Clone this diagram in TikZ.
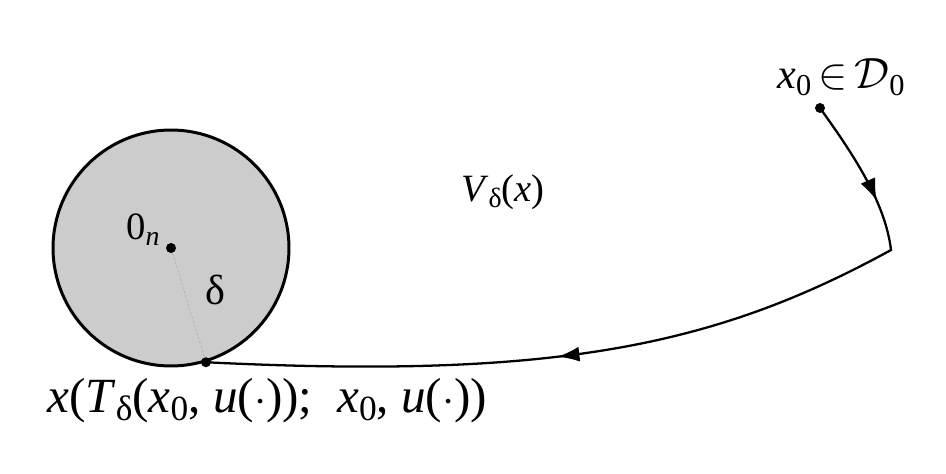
\documentclass[tikz,border=0pt]{standalone}
\usepackage{fontspec}
\setmainfont{Liberation Serif}
\usetikzlibrary{decorations.markings,arrows.meta}
\newcommand\sbs[1]{\raisebox{-0.35ex}{\scalebox{0.72}{#1}}}
\begin{document}
\begin{tikzpicture}[x=0.02cm,y=-0.02cm,
  lbl/.style={inner sep=0pt},
  dotpt/.style={circle,fill=black,inner sep=0pt,minimum size=0.2cm},
  traj/.style={line width=1.3pt, line join=miter},
]
\useasboundingbox (0,0) rectangle (946,473);
\node[circle, draw, line width=1.7pt, fill={rgb,255:red,204;green,204;blue,204},
      inner sep=0pt, minimum size=4.72cm] (ball) at (171,248) {};
\node[dotpt] (c) at (171,248) {};
\node[dotpt] (p) at (ball.-73) {};
\draw[gray!60, dash pattern=on 1.5pt off 1pt, line width=0.4pt] (c) -- (p);
\node[dotpt] (s) at (820,108) {};
\coordinate (k) at (891,250);
\draw[traj, postaction=decorate, decoration={markings,
   mark=at position 62pt with {\arrow{Latex[length=0.44cm,width=0.32cm]}},
   mark=at position 292pt with {\arrow{Latex[length=0.44cm,width=0.3cm]}}}]
  (s.center) .. controls (850,150) and (885,200) .. (k)
  .. controls (716,346) and (556,379.5) .. (p.center);
\node[lbl, font=\fontsize{24}{28}\selectfont] (lab0) at (841,77) {\textit{x}\sbs{0}\,$\in$\,$\mathcal{D}$\sbs{0}};
\node[lbl, font=\fontsize{22}{26}\selectfont] (lv) at (503,192) {\textit{V}\sbs{δ}(\textit{x})};
\node[lbl, font=\fontsize{22}{26}\selectfont] (l0) at (143,230) {0\sbs{\textit{n}}};
\node[lbl, font=\fontsize{24}{28}\selectfont] (ld) at (215,290) {δ};
\node[lbl, font=\fontsize{28}{33}\selectfont, anchor=west] (lx) at (47,401) {\textit{x}(\textit{T}\sbs{δ}(\textit{x}\sbs{0}, \textit{u}($\cdot$)); \ \textit{x}\sbs{0}, \textit{u}($\cdot$))};
\end{tikzpicture}
\end{document}
